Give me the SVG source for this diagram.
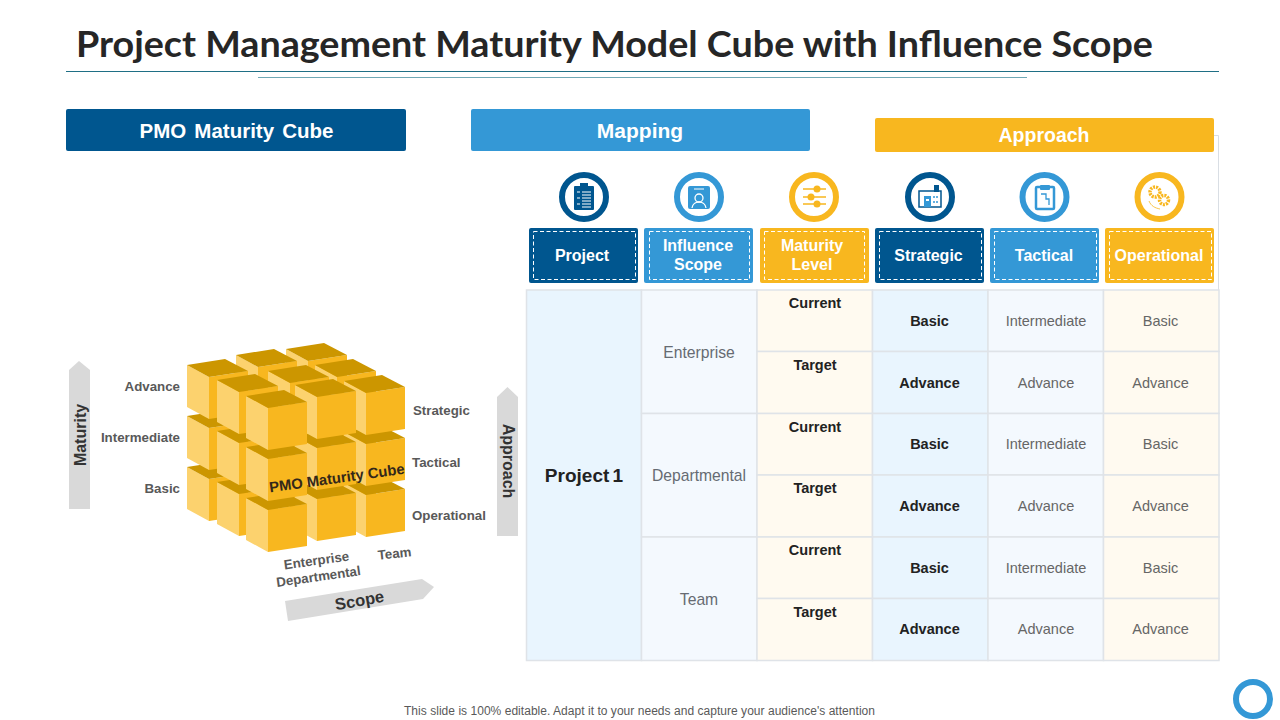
<svg xmlns="http://www.w3.org/2000/svg" width="1280" height="720" viewBox="0 0 1280 720">
<style>
text{font-family:"Liberation Sans",Arial,sans-serif}
.head{font-weight:700;fill:#fff;text-anchor:middle}
.box{font-size:16px;font-weight:700;fill:#fff;text-anchor:middle}
.dash{fill:none;stroke:#fff;stroke-width:1;stroke-dasharray:4 2.5}
.cell{stroke:#DFE3E8;stroke-width:1.5}
.t{font-size:14.5px;fill:#666;text-anchor:middle}
.b{font-size:14.5px;font-weight:700;fill:#222;text-anchor:middle}
.m{font-size:15.7px;fill:#666B72;text-anchor:middle}
.lab{font-size:13.3px;font-weight:700;fill:#595959}
.ax{font-weight:700;fill:#333;text-anchor:middle}
.ring{fill:#fff;stroke-width:6}
.blue1{fill:#00568F}.blue2{fill:#3498D6}.gold{fill:#F8B71F}
.c1{fill:#E9F5FE}.c2{fill:#F4F9FE}.c3{fill:#FFFAF0}
</style>
<defs>
<g id="cube">
<polygon points="-22,-12 0,0 0,42 -22,30" fill="#FCD26E"/>
<polygon points="0,0 39,-6 39,36 0,42" fill="#F8B71F"/>
<polygon points="0,0 -22,-12 16,-18 39,-6" fill="#CC9600"/>
</g>
</defs>
<rect width="1280" height="720" fill="#fff"/>
<g id="title">
<text x="76" y="57" font-size="37" font-weight="700" fill="#262626" style="font-family:Lato,sans-serif" textLength="1077" lengthAdjust="spacingAndGlyphs">Project Management Maturity Model Cube with Influence Scope</text>
<rect x="66" y="71" width="1153" height="1" fill="#1F6F85"/>
<rect x="258" y="77" width="769" height="1" fill="#6FA8B5"/>
</g>
<g id="panel-outline"><path d="M1214 135.500H1218.500V290" fill="none" stroke="#D9DEE4" stroke-width="1"/></g>
<g id="heading-cube"><rect class="blue1" x="66" y="109" width="340" height="42" rx="2"/><text class="head" x="236.500" y="138" font-size="20.500" word-spacing="2.500">PMO Maturity Cube</text></g>
<g id="heading-mapping"><rect class="blue2" x="471" y="109" width="339" height="42" rx="2"/><text class="head" x="640" y="138" font-size="21">Mapping</text></g>
<g id="heading-approach"><rect class="gold" x="875" y="118" width="339" height="34" rx="2"/><text class="head" x="1044" y="142" font-size="19.500">Approach</text></g>

<g id="icon-project"><circle class="ring" cx="584" cy="197" r="22" stroke="#00568F"/>
<rect class="blue1" x="574" y="186" width="20" height="24" rx="1"/><rect class="blue1" x="580" y="183" width="8" height="4"/>
<path d="M577 192h3M577 198h3M577 204h3M582 192h9M582 195h9M582 198h9M582 201h9M582 204h9M582 207h9" stroke="#fff" stroke-width="1.200"/></g>
<g id="icon-influence"><circle class="ring" cx="699" cy="197" r="22" stroke="#3498D6"/>
<rect class="blue2" x="688" y="186" width="22" height="23" rx="2"/><circle cx="699" cy="198" r="4" fill="none" stroke="#fff" stroke-width="1.300"/><path d="M692 208c1-8 13-8 14 0" fill="none" stroke="#fff" stroke-width="1.300"/><path d="M694 189h10" stroke="#fff" stroke-width="1"/></g>
<g id="icon-maturity"><circle class="ring" cx="814" cy="197" r="22" stroke="#F8B71F"/>
<path d="M803 189h23M803 197h23M803 204h23" stroke="#F8B71F" stroke-width="1.300"/><circle class="gold" cx="817" cy="189" r="3.500"/><circle class="gold" cx="811" cy="197" r="3.500"/><circle class="gold" cx="817" cy="204" r="3.500"/></g>
<g id="icon-strategic"><circle class="ring" cx="930" cy="197" r="22" stroke="#00568F"/>
<path d="M919 191h22v16h-22z" fill="none" stroke="#00568F" stroke-width="1.500"/><rect class="blue2" x="924" y="196" width="7" height="11"/><rect x="926" y="199" width="3" height="2" fill="#fff"/><rect class="blue1" x="934" y="185" width="5" height="7"/><path d="M933 197h6M933 202h6" stroke="#3498D6" stroke-width="1.500" stroke-dasharray="2 1"/></g>
<g id="icon-tactical"><circle class="ring" cx="1044.500" cy="197" r="22" stroke="#3498D6"/>
<rect x="1036" y="187" width="18" height="22" rx="1" fill="none" stroke="#3498D6" stroke-width="2.500"/><rect class="blue2" x="1040" y="185" width="10" height="5" rx="1"/><path d="M1041 194h5v5h3v6" fill="none" stroke="#3498D6" stroke-width="1.300"/></g>
<g id="icon-operational"><circle class="ring" cx="1159.500" cy="197" r="22" stroke="#F8B71F"/>
<circle cx="1155" cy="192" r="5" fill="none" stroke="#F8B71F" stroke-width="3.500" stroke-dasharray="2 1"/><circle cx="1164" cy="200" r="4.500" fill="none" stroke="#F8B71F" stroke-width="3.500" stroke-dasharray="2 1"/><path d="M1149 201c2 5 6 7 11 8" fill="none" stroke="#F8B71F" stroke-width=".8"/></g>

<g id="box-project"><rect class="blue1" x="529" y="228" width="109" height="55" rx="2"/><rect class="dash" x="533.500" y="231.500" width="102" height="48"/><text class="box" x="582" y="261">Project</text></g>
<g id="box-influence"><rect class="blue2" x="644" y="228" width="109" height="55" rx="2"/><rect class="dash" x="649.500" y="231.500" width="100" height="48"/><text class="box" x="698" y="251">Influence</text><text class="box" x="698" y="270">Scope</text></g>
<g id="box-maturity"><rect class="gold" x="760" y="228" width="109" height="55" rx="2"/><rect class="dash" x="764.500" y="231.500" width="100" height="48"/><text class="box" x="812" y="251">Maturity</text><text class="box" x="812" y="270">Level</text></g>
<g id="box-strategic"><rect class="blue1" x="875" y="228" width="109" height="55" rx="2"/><rect class="dash" x="879.500" y="231.500" width="102" height="48"/><text class="box" x="928.500" y="261">Strategic</text></g>
<g id="box-tactical"><rect class="blue2" x="990" y="228" width="109" height="55" rx="2"/><rect class="dash" x="994.500" y="231.500" width="102" height="48"/><text class="box" x="1044" y="261">Tactical</text></g>
<g id="box-operational"><rect class="gold" x="1105" y="228" width="109" height="55" rx="2"/><rect class="dash" x="1109.500" y="231.500" width="102" height="48"/><text class="box" x="1159" y="261">Operational</text></g>

<g id="table">
<rect class="cell c1" x="526.500" y="290" width="115" height="370.500"/>
<rect class="cell c2" x="641.500" y="290" width="115.500" height="123.500"/>
<rect class="cell c2" x="641.500" y="413.500" width="115.500" height="123.500"/>
<rect class="cell c2" x="641.500" y="537" width="115.500" height="123.500"/>
<rect class="cell c3" x="757" y="290" width="115.500" height="61.500"/>
<rect class="cell c1" x="872.500" y="290" width="115.500" height="61.500"/>
<rect class="cell c2" x="988" y="290" width="115.500" height="61.500"/>
<rect class="cell c3" x="1103.500" y="290" width="115.500" height="61.500"/>
<rect class="cell c3" x="757" y="351.500" width="115.500" height="62"/>
<rect class="cell c1" x="872.500" y="351.500" width="115.500" height="62"/>
<rect class="cell c2" x="988" y="351.500" width="115.500" height="62"/>
<rect class="cell c3" x="1103.500" y="351.500" width="115.500" height="62"/>
<rect class="cell c3" x="757" y="413.500" width="115.500" height="61.500"/>
<rect class="cell c1" x="872.500" y="413.500" width="115.500" height="61.500"/>
<rect class="cell c2" x="988" y="413.500" width="115.500" height="61.500"/>
<rect class="cell c3" x="1103.500" y="413.500" width="115.500" height="61.500"/>
<rect class="cell c3" x="757" y="475" width="115.500" height="62"/>
<rect class="cell c1" x="872.500" y="475" width="115.500" height="62"/>
<rect class="cell c2" x="988" y="475" width="115.500" height="62"/>
<rect class="cell c3" x="1103.500" y="475" width="115.500" height="62"/>
<rect class="cell c3" x="757" y="537" width="115.500" height="61.500"/>
<rect class="cell c1" x="872.500" y="537" width="115.500" height="61.500"/>
<rect class="cell c2" x="988" y="537" width="115.500" height="61.500"/>
<rect class="cell c3" x="1103.500" y="537" width="115.500" height="61.500"/>
<rect class="cell c3" x="757" y="598.500" width="115.500" height="62"/>
<rect class="cell c1" x="872.500" y="598.500" width="115.500" height="62"/>
<rect class="cell c2" x="988" y="598.500" width="115.500" height="62"/>
<rect class="cell c3" x="1103.500" y="598.500" width="115.500" height="62"/>
<text x="584" y="482" font-size="19" font-weight="700" fill="#222" text-anchor="middle" word-spacing="-2">Project 1</text>
<text class="m" x="699" y="358">Enterprise</text><text class="m" x="699" y="481">Departmental</text><text class="m" x="699" y="605">Team</text>
<text class="b" x="815" y="308">Current</text><text class="b" x="815" y="370">Target</text><text class="b" x="815" y="432">Current</text><text class="b" x="815" y="493">Target</text><text class="b" x="815" y="555">Current</text><text class="b" x="815" y="617">Target</text>
<text class="b" x="929.500" y="326">Basic</text><text class="b" x="929.500" y="388">Advance</text><text class="b" x="929.500" y="449">Basic</text><text class="b" x="929.500" y="511">Advance</text><text class="b" x="929.500" y="573">Basic</text><text class="b" x="929.500" y="634">Advance</text>
<text class="t" x="1046" y="326">Intermediate</text><text class="t" x="1046" y="388">Advance</text><text class="t" x="1046" y="449">Intermediate</text><text class="t" x="1046" y="511">Advance</text><text class="t" x="1046" y="573">Intermediate</text><text class="t" x="1046" y="634">Advance</text>
<text class="t" x="1160.500" y="326">Basic</text><text class="t" x="1160.500" y="388">Advance</text><text class="t" x="1160.500" y="449">Basic</text><text class="t" x="1160.500" y="511">Advance</text><text class="t" x="1160.500" y="573">Basic</text><text class="t" x="1160.500" y="634">Advance</text>
</g>

<g id="maturity-cube">
<use href="#cube" x="308" y="463"/><use href="#cube" x="258" y="469"/><use href="#cube" x="209" y="479"/>
<use href="#cube" x="337" y="479"/><use href="#cube" x="290" y="485"/><use href="#cube" x="239" y="494"/>
<use href="#cube" x="366" y="495"/><use href="#cube" x="317" y="499"/><use href="#cube" x="268" y="510"/>
<use href="#cube" x="308" y="412"/><use href="#cube" x="258" y="418"/><use href="#cube" x="209" y="428"/>
<use href="#cube" x="337" y="428"/><use href="#cube" x="290" y="434"/><use href="#cube" x="239" y="443"/>
<use href="#cube" x="366" y="444"/><use href="#cube" x="317" y="448"/><use href="#cube" x="268" y="459"/>
<use href="#cube" x="308" y="361"/><use href="#cube" x="258" y="367"/><use href="#cube" x="209" y="377"/>
<use href="#cube" x="337" y="377"/><use href="#cube" x="290" y="383"/><use href="#cube" x="239" y="392"/>
<use href="#cube" x="366" y="393"/><use href="#cube" x="317" y="397"/><use href="#cube" x="268" y="408"/>
<text transform="translate(337.500 483) rotate(-8)" font-size="14.800" font-weight="700" fill="#33281A" text-anchor="middle">PMO Maturity Cube</text>
</g>

<g id="axis-maturity"><polygon points="79,361 90,370 90,509 69,509 69,370" fill="#D9D9D9"/><text class="ax" font-size="16" transform="translate(86 435) rotate(-90)">Maturity</text></g>
<g id="axis-approach"><polygon points="507.500,387 518,397 518,536 497,536 497,397" fill="#D9D9D9"/><text class="ax" font-size="16" transform="translate(503 461) rotate(90)">Approach</text></g>
<g id="axis-scope"><polygon points="285,601 422,579 434,587 423,599 288,621" fill="#D9D9D9"/><text class="ax" font-size="16.500" transform="translate(360.500 606) rotate(-10)">Scope</text></g>

<g id="cube-labels">
<text class="lab" x="180" y="391" text-anchor="end">Advance</text>
<text class="lab" x="180" y="442" text-anchor="end">Intermediate</text>
<text class="lab" x="180" y="493" text-anchor="end">Basic</text>
<text class="lab" x="413" y="415">Strategic</text>
<text class="lab" x="412" y="467">Tactical</text>
<text class="lab" x="412" y="520">Operational</text>
<text class="lab" transform="translate(317 565) rotate(-8)" text-anchor="middle">Enterprise</text>
<text class="lab" transform="translate(319 581) rotate(-8)" text-anchor="middle">Departmental</text>
<text class="lab" transform="translate(395 558) rotate(-6)" text-anchor="middle">Team</text>
</g>

<g id="footer"><text x="639.500" y="715" font-size="12" fill="#595959" text-anchor="middle" textLength="471">This slide is 100% editable. Adapt it to your needs and capture your audience's attention</text></g>
<g id="badge"><circle cx="1253" cy="699" r="17" fill="none" stroke="#3498D6" stroke-width="6"/></g>
</svg>
